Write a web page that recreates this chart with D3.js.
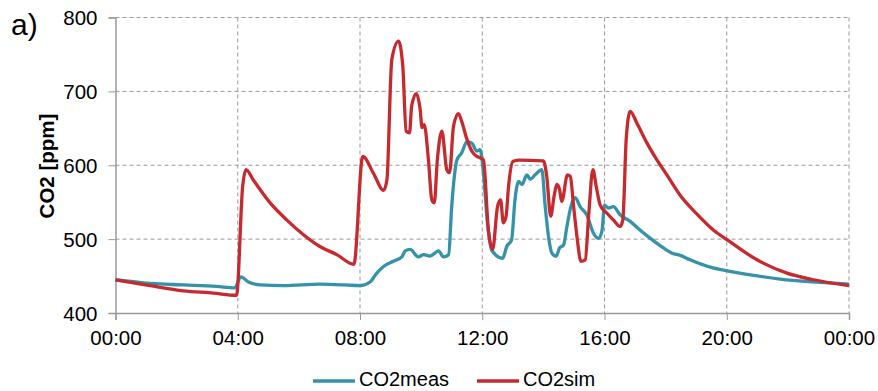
<!DOCTYPE html>
<html>
<head>
<meta charset="utf-8">
<script src="https://cdn.jsdelivr.net/npm/d3@7"></script>
<style>
    body { margin: 0; background: #fff; }
    text { font-family: "Liberation Sans", Arial, sans-serif; fill: #000; }
    .grid line { stroke: #999; stroke-dasharray: 4,3; stroke-width: 1; }
</style>
</head>
<body>
<svg id="chart" width="878" height="391"></svg>
<script>

// hours since midnight
var measTime = [0, 1.13, 2.22, 3.31, 3.9, 4.1, 4.35, 4.73, 5.5, 6.69, 7.5, 8.0, 8.33, 8.55, 8.77, 9.09,
    9.37, 9.48, 9.64, 9.91, 10.08, 10.29, 10.57, 10.73, 10.9, 11.0, 11.17, 11.33, 11.5, 11.66, 11.82,
    11.93, 12.04, 12.17, 12.31, 12.67, 12.8, 12.96, 13.07, 13.19, 13.3, 13.46, 13.57, 13.73, 13.95,
    14.06, 14.17, 14.28, 14.42, 14.53, 14.66, 14.77, 14.9, 15.04, 15.2, 15.42, 15.64, 15.81, 15.92,
    16.0, 16.13, 16.29, 16.51, 16.84, 17.17, 17.5, 17.83, 18.21, 18.48, 18.8, 19.46, 20.02, 20.88,
    21.75, 22.84, 24];
var measCO2 = [445, 440, 438, 436, 434, 449, 442, 438, 437, 439, 438, 437, 442, 454, 463, 470,
    476, 484, 486, 476, 479, 477, 484, 476, 479, 544, 607, 617, 632, 630, 619,
    621, 589, 522, 485, 474, 490, 499, 553, 578, 574, 587, 581, 587, 594,
    544, 503, 481, 477, 488, 492, 517, 544, 556, 544, 533, 508, 501, 512,
    546, 542, 544, 533, 524, 512, 501, 491, 481, 478, 472, 462, 457, 451,
    446, 442, 439];

var simTime = [0, 1.13, 2.22, 3.2, 3.96, 4.16, 4.27, 4.51, 5.06, 5.6, 6.15, 6.69, 7.24, 7.8, 8.09,
    8.44, 8.77, 8.88, 9.04, 9.26, 9.4, 9.51, 9.62, 9.69, 9.84, 9.97, 10.03, 10.1, 10.24, 10.35,
    10.43, 10.53, 10.68, 10.84, 10.93, 11.06, 11.22, 11.33, 11.5, 11.66, 11.82, 11.93, 12.04, 12.2,
    12.34, 12.5, 12.6, 12.69, 12.78, 12.86, 13.0, 13.19, 14.0, 14.11, 14.24, 14.35, 14.44, 14.53,
    14.6, 14.79, 14.88, 14.99, 15.1, 15.23, 15.37, 15.48, 15.62, 15.73, 15.86, 16.08, 16.29, 16.51,
    16.6, 16.71, 16.84, 17.06, 17.39, 17.72, 18.04, 18.48, 19.0, 19.57, 20.02, 20.99, 21.97, 22.84, 24];
var simCO2 = [445, 437, 430, 427, 424, 571, 594, 580, 549, 526, 506, 490, 479, 466, 612,
    589, 566, 580, 743, 768, 734, 646, 644, 680, 697, 675, 651, 655, 607, 553,
    549, 607, 646, 594, 590, 653, 670, 659, 635, 619, 612, 610, 607, 513,
    486, 544, 553, 522, 531, 571, 605, 607, 606, 585, 531, 558, 574, 567,
    551, 587, 585, 544, 503, 470, 472, 531, 594, 571, 546, 535, 526, 517,
    526, 635, 673, 657, 630, 607, 587, 559, 535, 512, 499, 472, 454, 445, 437];

var xTicks = [0, 4, 8, 12, 16, 20, 24];
var xTickLabels = ["00:00", "04:00", "08:00", "12:00", "16:00", "20:00", "00:00"];
var yTicks = [400, 500, 600, 700, 800];

var series = [
    {name: "CO2meas", color: "#3592a8", t: measTime, v: measCO2},
    {name: "CO2sim", color: "#c62a2f", t: simTime, v: simCO2}
];

var svg = d3.select("#chart");
var plot = {left: 115.5, right: 849, top: 17.5, bottom: 313};

var x = d3.scaleLinear().domain([0, 24]).range([plot.left, plot.right]);
var y = d3.scaleLinear().domain([400, 800]).range([plot.bottom, plot.top]);

// grid
var grid = svg.append("g").attr("class", "grid");
grid.selectAll(".gx")
    .data(xTicks.slice(1))
    .enter().append("line")
    .attr("x1", function (d) { return x(d); })
    .attr("x2", function (d) { return x(d); })
    .attr("y1", plot.top)
    .attr("y2", plot.bottom);
grid.selectAll(".gy")
    .data(yTicks.slice(1))
    .enter().append("line")
    .attr("x1", plot.left)
    .attr("x2", plot.right)
    .attr("y1", function (d) { return y(d); })
    .attr("y2", function (d) { return y(d); });

// axes
var xAxis = svg.append("g")
    .attr("transform", "translate(0," + plot.bottom + ")")
    .call(d3.axisBottom(x).tickValues(xTicks).tickSize(7).tickPadding(10)
        .tickFormat(function (d, i) { return xTickLabels[i]; }));
var yAxis = svg.append("g")
    .attr("transform", "translate(" + plot.left + ",0)")
    .call(d3.axisLeft(y).tickValues(yTicks).tickSize(7).tickPadding(11));

[xAxis, yAxis].forEach(function (a) {
    a.select(".domain").attr("stroke", "#999").attr("stroke-width", 1.5);
    a.selectAll(".tick line").attr("stroke", "#999");
    a.selectAll(".tick text").style("font-size", "20.5px").attr("fill", "#000");
});
xAxis.selectAll(".tick text").attr("dy", "0.72em");
yAxis.selectAll(".tick text").attr("dy", "0.35em");

// lines
var line = d3.line()
    .curve(d3.curveMonotoneX)
    .x(function (d) { return x(d[0]); })
    .y(function (d) { return y(d[1]); });

series.forEach(function (s) {
    svg.append("path")
        .datum(d3.zip(s.t, s.v))
        .attr("fill", "none")
        .attr("stroke", s.color)
        .attr("stroke-width", 3.3)
        .attr("stroke-linejoin", "round")
        .attr("d", line);
});

// y label
svg.append("text")
    .attr("transform", "translate(54,166) rotate(-90)")
    .attr("text-anchor", "middle")
    .style("font-size", "20.5px")
    .style("font-weight", "bold")
    .text("CO2 [ppm]");

// panel label
svg.append("text")
    .attr("x", 11)
    .attr("y", 35)
    .style("font-size", "30px")
    .text("a)");

// legend
var legend = svg.selectAll(".legend")
    .data(series)
    .enter().append("g")
    .attr("transform", function (d, i) { return "translate(" + (313 + i * 164) + ",381)"; });
legend.append("line")
    .attr("x1", 0).attr("x2", 42)
    .attr("stroke", function (d) { return d.color; })
    .attr("stroke-width", 3.5);
legend.append("text")
    .attr("x", 46)
    .attr("y", 5)
    .style("font-size", "20px")
    .text(function (d) { return d.name; });

</script>
</body>
</html>
